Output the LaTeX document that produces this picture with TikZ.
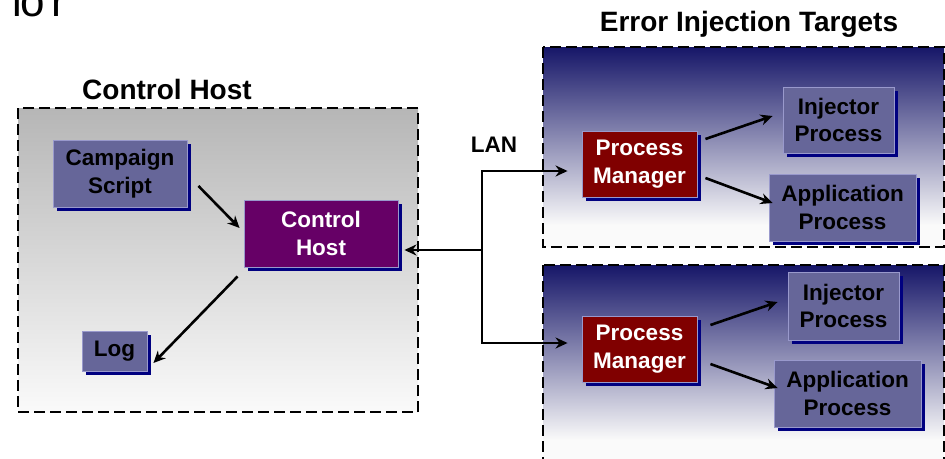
\documentclass[tikz,border=0pt]{standalone}
\usepackage{fontspec}
\setmainfont{Liberation Sans}
\usetikzlibrary{shadows,arrows.meta,calc}

\definecolor{slate}{RGB}{102,102,153}
\definecolor{slateedge}{RGB}{153,153,204}
\definecolor{plum}{RGB}{102,0,102}
\definecolor{maroonbox}{RGB}{128,0,0}
\definecolor{navyshadow}{RGB}{0,0,128}
\definecolor{navytop}{RGB}{22,22,104}
\definecolor{navymid}{RGB}{150,150,172}
\definecolor{paper}{RGB}{250,250,250}
\definecolor{greytop}{RGB}{182,182,182}

\tikzset{
  boxbase/.style={draw=slateedge, line width=0.9pt, inner sep=0pt, align=center,
    font=\fontsize{22.5}{27.5}\selectfont\bfseries,
    drop shadow={shadow xshift=3.5pt, shadow yshift=-3.5pt, fill=navyshadow, opacity=1}},
  slatebox/.style={boxbase, fill=slate, text=black},
  plumbox/.style={boxbase, fill=plum, text=white},
  mgrbox/.style={boxbase, fill=maroonbox, text=white},
  grouptitle/.style={font=\fontsize{28}{30}\selectfont\bfseries, inner sep=0pt},
  grouprim/.style={draw=black, line width=2.6pt, dash pattern=on 11pt off 5pt},
  arr/.style={draw=black, line width=2.6pt, -{Stealth[length=12pt,width=11pt]}}
}

\begin{document}
\begin{tikzpicture}[x=1pt,y=-1pt]
\useasboundingbox (0,0) rectangle (945,458);
\fill[white] (0,0) rectangle (945,458);

% heading fragment running off the top edge
\node[anchor=base west, inner sep=0pt, font=\fontsize{44}{44}\selectfont] (headfrag) at (11,16) {f\kern-3pt o\kern7pt r};

% control host group
\shade[top color=greytop, bottom color=paper] (18,108) rectangle (418,412);
\draw[grouprim] (18,108) rectangle (418,412);
\node[grouptitle] (hosttitle) at (167,89) {Control Host};

% error injection target groups
\shade[top color=navytop, middle color=navymid, bottom color=paper] (543,47) rectangle (944,225);
\fill[paper] (543,225) rectangle (944,247);
\draw[grouprim] (543,47) rectangle (944,247);
\shade[top color=navytop, middle color=navymid, bottom color=paper] (543,265) rectangle (944,440);
\fill[paper] (543,440) rectangle (944,470);
\draw[grouprim] (543,265) rectangle (944,470);
\node[grouptitle] (targettitle) at (749,24) {Error Injection Targets};

% boxes
\node[slatebox, minimum width=134pt, minimum height=67pt] (camp) at (120,173.5) {Campaign\\Script};
\node[plumbox, minimum width=154pt, minimum height=67pt] (ctrl) at (321,233.5) {Control\\Host};
\node[slatebox, minimum width=65pt, minimum height=40pt] (log) at (114.5,351) {Log};

\node[mgrbox, minimum width=115pt, minimum height=66pt] (pm1) at (639.5,164) {Process\\Manager};
\node[slatebox, minimum width=111pt, minimum height=66pt] (inj1) at (838.5,120) {Injector\\Process};
\node[slatebox, minimum width=147pt, minimum height=67pt] (app1) at (842.5,207.5) {Application\\Process};

\node[mgrbox, minimum width=115pt, minimum height=66pt] (pm2) at (639.5,349) {Process\\Manager};
\node[slatebox, minimum width=111pt, minimum height=68pt] (inj2) at (843.5,306) {Injector\\Process};
\node[slatebox, minimum width=147pt, minimum height=67pt] (app2) at (847.5,393.5) {Application\\Process};

% LAN
\node[font=\fontsize{22.5}{27.5}\selectfont\bfseries, inner sep=0pt] (lanlabel) at (494,145) {LAN};
\coordinate (lan) at (482,250);
\draw[arr] (lan) -- ($(ctrl.east)+(6,16.5)$);
\draw[arr] (lan) |- ($(pm1.west)+(-14,7)$);
\draw[arr] (lan) |- ($(pm2.west)+(-14,-6)$);

% control host flows
\draw[arr] ($(camp.east)+(11,12.5)$) -- ($(ctrl.west)+(-4,-5.5)$);
\draw[arr] ($(ctrl.south west)+(-6,9)$) -- ($(log.east)+(6,12)$);

% process manager flows
\draw[arr] ($(pm1.east)+(8,-25)$) -- ($(inj1.west)+(-10,-4)$);
\draw[arr] ($(pm1.east)+(8,14)$) -- ($(app1.west)+(4,-4.5)$);
\draw[arr] ($(pm2.east)+(13,-24)$) -- ($(inj2.west)+(-10,-4)$);
\draw[arr] ($(pm2.east)+(13,15)$) -- ($(app2.west)+(4,-5.5)$);
\end{tikzpicture}
\end{document}
